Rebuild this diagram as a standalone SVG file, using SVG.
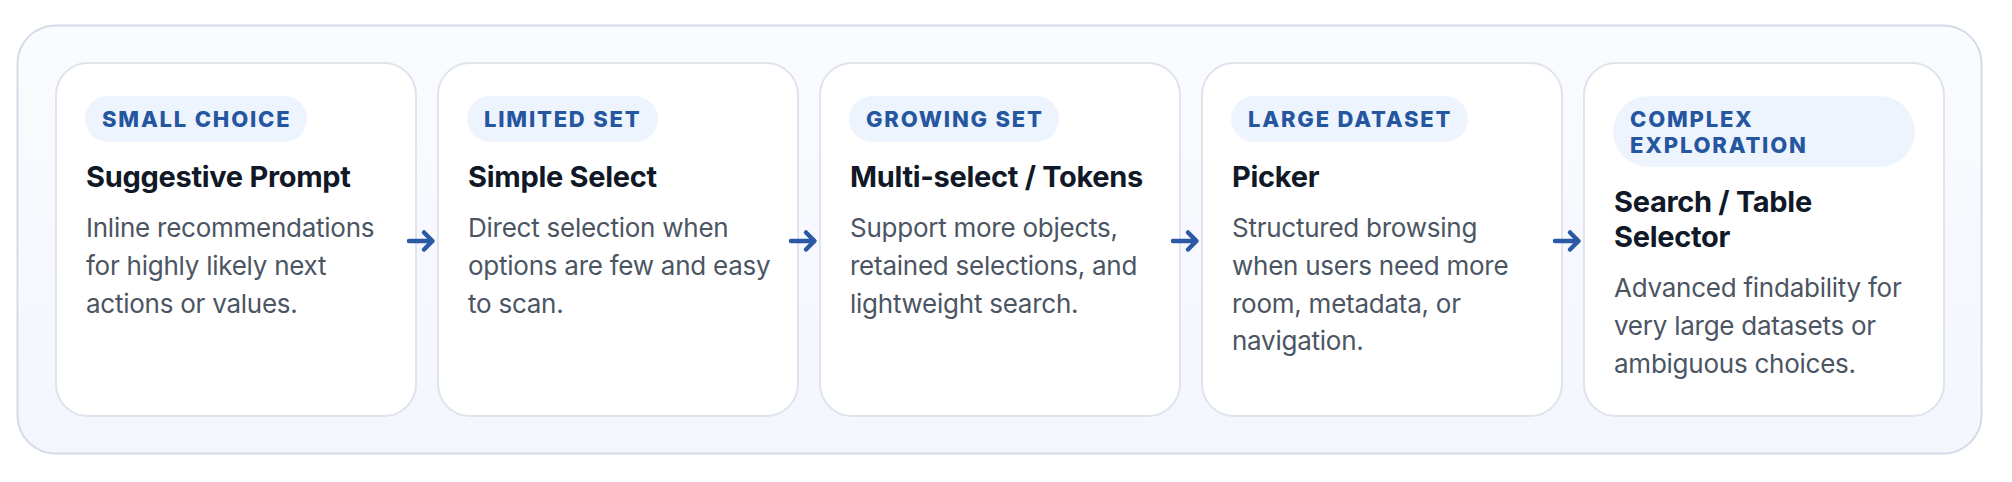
<svg xmlns="http://www.w3.org/2000/svg" width="2012" height="482" viewBox="0 0 2012 482">
  <defs>
    <linearGradient id="bg" x1="0" y1="0" x2="0" y2="1">
      <stop offset="0" stop-color="#fafbfe"/>
      <stop offset="1" stop-color="#f3f6fd"/>
    </linearGradient>
    <style>
      .card { fill: #ffffff; stroke: #dfe3ec; stroke-width: 2; }
      .pill { fill: #eef4fd; }
      .tag { font-family: Inter, "Liberation Sans", sans-serif; font-weight: 800; font-size: 22px; letter-spacing: 1.8px; fill: #2556a0; }
      .title { font-family: Inter, "Liberation Sans", sans-serif; font-weight: 700; font-size: 29px; letter-spacing: -0.3px; fill: #111827; }
      .desc { font-family: Inter, "Liberation Sans", sans-serif; font-weight: 400; font-size: 26px; letter-spacing: -0.25px; fill: #4b5563; }
      .arrow { fill: none; stroke: #2b59a3; stroke-width: 4.5; stroke-linecap: round; stroke-linejoin: round; }
    </style>
  </defs>
  <rect width="2012" height="482" fill="#ffffff"/>
  <rect id="container" x="17.5" y="25.5" width="1964" height="428" rx="38" fill="url(#bg)" stroke="#d4dae7" stroke-width="2"/>

  <g id="node-small-choice">
    <rect class="card" x="56" y="63" width="360" height="353" rx="32"/>
    <rect class="pill" x="85" y="96" width="222" height="46" rx="23"/>
    <text class="tag" x="102" y="127">SMALL CHOICE</text>
    <text class="title" x="86" y="187">Suggestive Prompt</text>
    <text class="desc" x="86" y="237">Inline recommendations</text>
    <text class="desc" x="86" y="274.8">for highly likely next</text>
    <text class="desc" x="86" y="312.6">actions or values.</text>
  </g>

  <g id="node-limited-set">
    <rect class="card" x="438" y="63" width="360" height="353" rx="32"/>
    <rect class="pill" x="467" y="96" width="191" height="46" rx="23"/>
    <text class="tag" x="484" y="127">LIMITED SET</text>
    <text class="title" x="468" y="187">Simple Select</text>
    <text class="desc" x="468" y="237">Direct selection when</text>
    <text class="desc" x="468" y="274.8">options are few and easy</text>
    <text class="desc" x="468" y="312.6">to scan.</text>
  </g>

  <g id="node-growing-set">
    <rect class="card" x="820" y="63" width="360" height="353" rx="32"/>
    <rect class="pill" x="849" y="96" width="210" height="46" rx="23"/>
    <text class="tag" x="866" y="127">GROWING SET</text>
    <text class="title" x="850" y="187">Multi-select / Tokens</text>
    <text class="desc" x="850" y="237">Support more objects,</text>
    <text class="desc" x="850" y="274.8">retained selections, and</text>
    <text class="desc" x="850" y="312.6">lightweight search.</text>
  </g>

  <g id="node-large-dataset">
    <rect class="card" x="1202" y="63" width="360" height="353" rx="32"/>
    <rect class="pill" x="1231" y="96" width="237" height="46" rx="23"/>
    <text class="tag" x="1248" y="127">LARGE DATASET</text>
    <text class="title" x="1232" y="187">Picker</text>
    <text class="desc" x="1232" y="237">Structured browsing</text>
    <text class="desc" x="1232" y="274.8">when users need more</text>
    <text class="desc" x="1232" y="312.6">room, metadata, or</text>
    <text class="desc" x="1232" y="350.4">navigation.</text>
  </g>

  <g id="node-complex-exploration">
    <rect class="card" x="1584" y="63" width="360" height="353" rx="32"/>
    <rect class="pill" x="1613" y="96" width="302" height="71" rx="35.5"/>
    <text class="tag" x="1630" y="127">COMPLEX</text>
    <text class="tag" x="1630" y="153">EXPLORATION</text>
    <text class="title" x="1614" y="212">Search / Table</text>
    <text class="title" x="1614" y="247">Selector</text>
    <text class="desc" x="1614" y="297">Advanced findability for</text>
    <text class="desc" x="1614" y="334.8">very large datasets or</text>
    <text class="desc" x="1614" y="372.6">ambiguous choices.</text>
  </g>

  <g id="connectors">
    <path class="arrow" d="M409,241 H432 M424,232.5 L432.5,241 L424,249.5"/>
    <path class="arrow" d="M791,241 H814 M806,232.5 L814.5,241 L806,249.5"/>
    <path class="arrow" d="M1173,241 H1196 M1188,232.5 L1196.5,241 L1188,249.5"/>
    <path class="arrow" d="M1555,241 H1578 M1570,232.5 L1578.5,241 L1570,249.5"/>
  </g>
</svg>
